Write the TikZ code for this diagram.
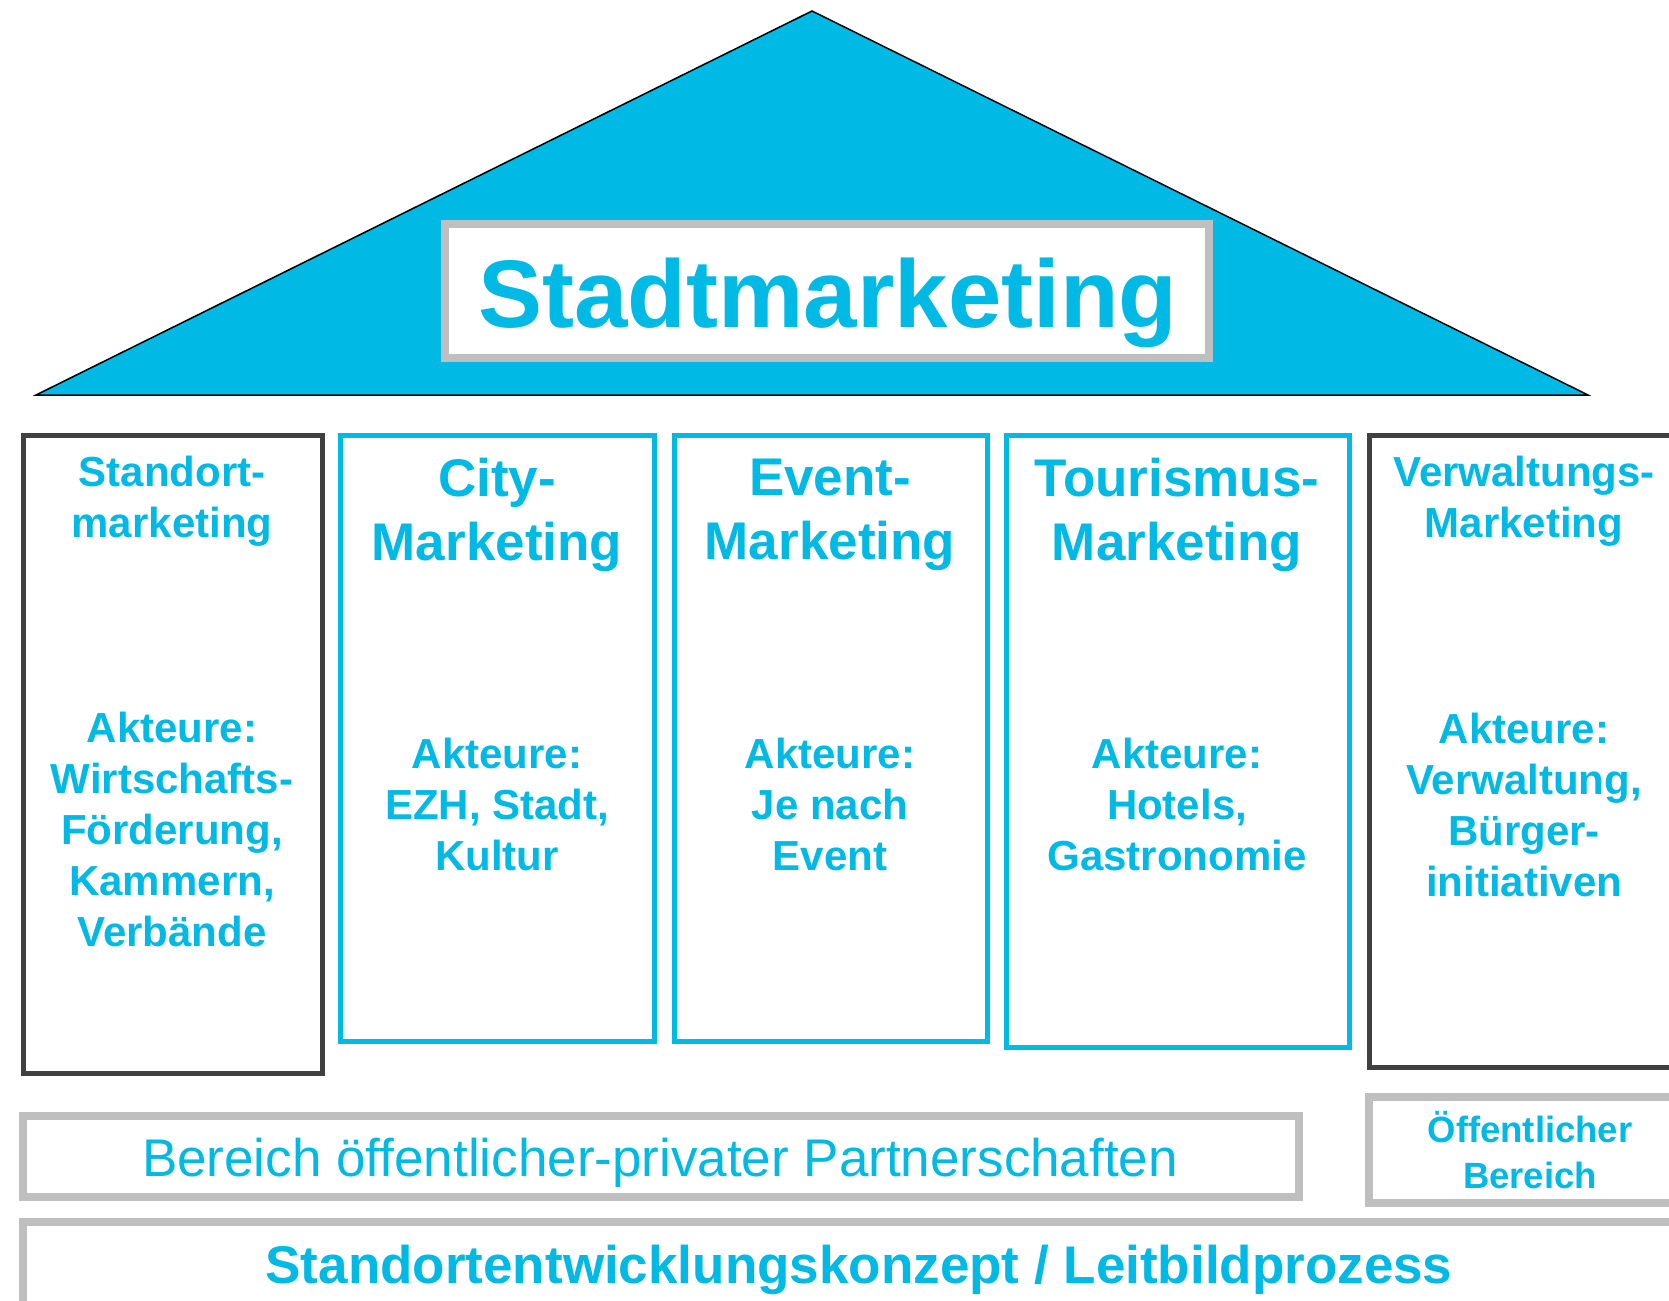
\documentclass[tikz,border=0pt]{standalone}
\usepackage{fontspec}
\setmainfont{Liberation Sans}
\definecolor{cyanB}{RGB}{0,185,228}
\definecolor{grayB}{RGB}{191,191,191}
\definecolor{darkB}{RGB}{64,64,64}
\begin{document}
\begin{tikzpicture}[x=1pt,y=-1pt,
  cbox/.style={draw=cyanB,line width=5pt,fill=white,inner sep=0pt},
  dbox/.style={draw=darkB,line width=5pt,fill=white,inner sep=0pt},
  gbox/.style={draw=grayB,line width=8pt,fill=white,inner sep=0pt},
  txt/.style={text=cyanB,align=center,inner sep=0pt,font=\bfseries},
  hsmall/.style={txt,font=\bfseries\fontsize{42}{51}\selectfont},
  hbig/.style={txt,font=\bfseries\fontsize{53}{64}\selectfont},
  akt/.style={txt,font=\bfseries\fontsize{42}{51}\selectfont}]
\clip (0,0) rectangle (1669,1300);
\fill[white] (0,0) rectangle (1669,1300);
% roof
\coordinate (rl) at (36,395);
\coordinate (rt) at (812,11);
\coordinate (rr) at (1588,395);
\fill[cyanB] (rl) -- (rt) -- (rr) -- cycle;
\draw[black,line width=1.5pt,line join=miter] (rl) -- (rt) -- (rr) -- cycle;
\node[gbox,minimum width=764pt,minimum height=134pt] (titlebox) at (827,291) {};
\node[txt,font=\bfseries\fontsize{96}{110}\selectfont] (title) at (828,303) {Stadtmarketing};
% pillars
\node[dbox,minimum width=299pt,minimum height=638pt] (p1) at (173,754.5) {};
\node[cbox,minimum width=314pt,minimum height=606pt] (p2) at (497.5,738.5) {};
\node[cbox,minimum width=313pt,minimum height=606pt] (p3) at (831,738.5) {};
\node[cbox,minimum width=343pt,minimum height=612pt] (p4) at (1178,741.5) {};
\node[dbox,minimum width=330pt,minimum height=632pt] (p5) at (1534.5,751.5) {};
% headers
\node[hsmall] (h1) at (172,501) {Standort-\\marketing};
\node[hbig] (h2) at (497,515) {City-\\Marketing};
\node[hbig] (h3) at (830,515) {Event-\\Marketing};
\node[hbig] (h4) at (1177,515) {Tourismus-\\Marketing};
\node[hsmall] (h5) at (1524,501) {Verwaltungs-\\Marketing};
% actors
\node[akt] (a1) at (172,829) {Akteure:\\Wirtschafts-\\Förderung,\\Kammern,\\Verbände};
\node[akt] (a2) at (497,804) {Akteure:\\EZH, Stadt,\\Kultur};
\node[akt] (a3) at (830,804) {Akteure:\\Je nach\\Event};
\node[akt] (a4) at (1177,804) {Akteure:\\Hotels,\\Gastronomie};
\node[akt] (a5) at (1524,805) {Akteure:\\Verwaltung,\\Bürger-\\initiativen};
% base boxes
\node[gbox,minimum width=1276pt,minimum height=81pt] (ppp) at (661,1156.5) {};
\node[txt,font=\fontsize{53}{64}\selectfont] (ppptext) at (660,1163) {Bereich öffentlicher-privater Partnerschaften};
\node[gbox,minimum width=331pt,minimum height=106pt] (oeff) at (1534.5,1150) {};
\node[txt,font=\bfseries\fontsize{36.5}{46}\selectfont] (oefftext) at (1530,1150) {Öffentlicher\\Bereich};
\node[gbox,minimum width=1677pt,minimum height=108pt] (sek) at (861.5,1276) {};
\node[txt,font=\bfseries\fontsize{53}{64}\selectfont] (sektext) at (859,1270) {Standortentwicklungskonzept / Leitbildprozess};
\end{tikzpicture}
\end{document}
